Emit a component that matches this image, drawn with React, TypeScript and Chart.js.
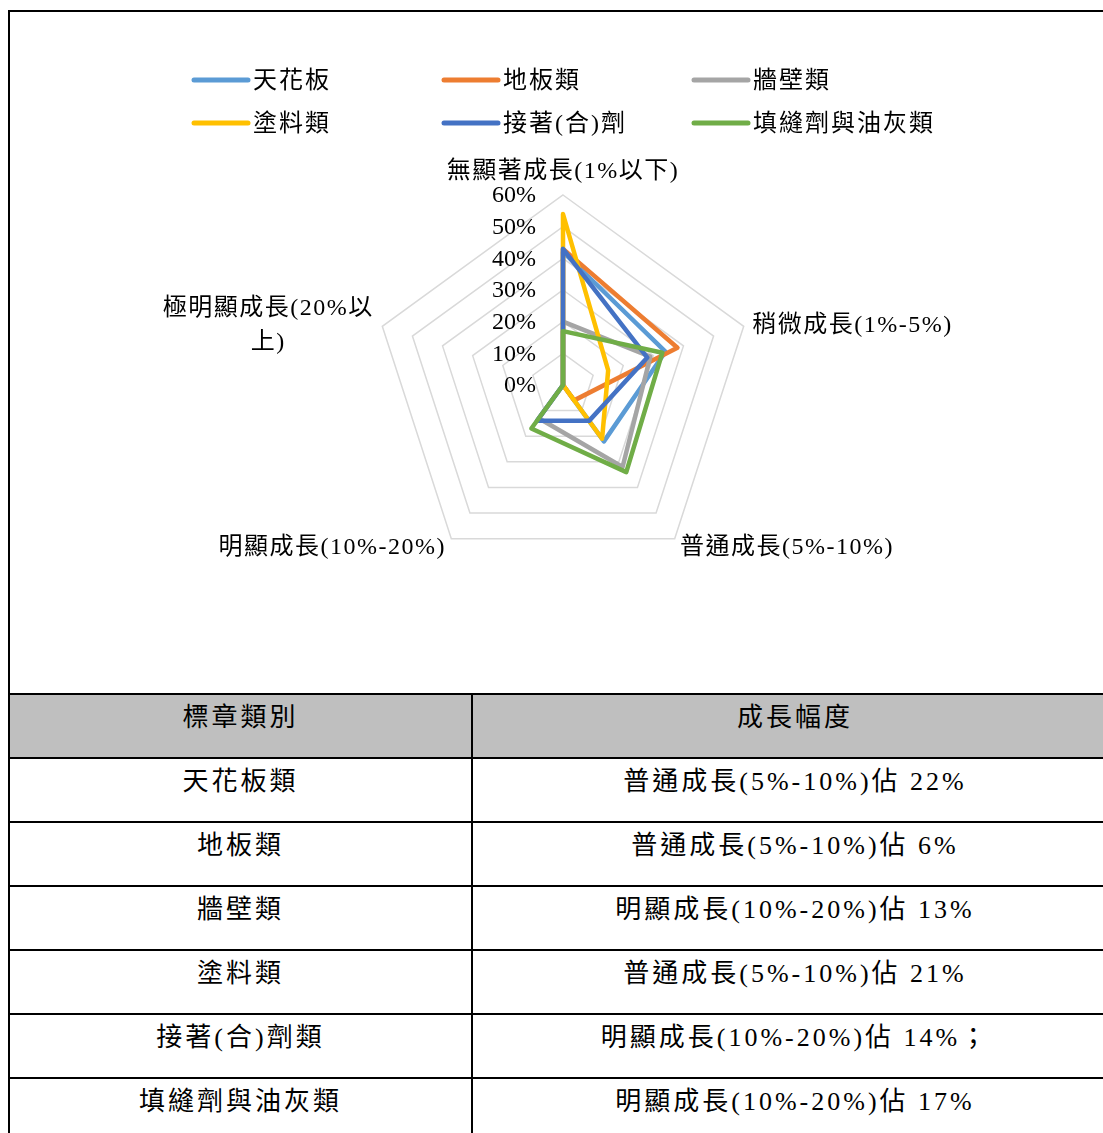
import React, { useEffect, useRef } from 'react';
import { Chart, registerables } from 'chart.js';

Chart.register(...registerables);

// ---- data ----
const categories = ['無顯著成長(1%以下)', '稍微成長(1%-5%)', '普通成長(5%-10%)', '明顯成長(10%-20%)', '極明顯成長(20%以上)'];
const seriesNames = ['天花板', '地板類', '牆壁類', '塗料類', '接著(合)劑', '填縫劑與油灰類'];
const ceilingValues = [42, 34, 22, 0, 0];
const floorValues = [43, 38, 6, 0, 0];
const wallValues = [20, 29, 32, 13, 0];
const paintValues = [54, 15, 21, 0, 0];
const adhesiveValues = [43, 28, 14, 14, 0];
const sealantValues = [17, 33, 34, 17, 0];
const tickValues = [0, 10, 20, 30, 40, 50, 60];

const tableHeader = ['標章類別', '成長幅度'];
const tableCategories = ['天花板類', '地板類', '牆壁類', '塗料類', '接著(合)劑類', '填縫劑與油灰類'];
const tableGrowth = [
  '普通成長(5%-10%)佔 22%',
  '普通成長(5%-10%)佔 6%',
  '明顯成長(10%-20%)佔 13%',
  '普通成長(5%-10%)佔 21%',
  '明顯成長(10%-20%)佔 14%；',
  '明顯成長(10%-20%)佔 17%',
];

const seriesValues = [ceilingValues, floorValues, wallValues, paintValues, adhesiveValues, sealantValues];
const seriesColors = ['#5B9BD5', '#ED7D31', '#A5A5A5', '#FFC000', '#4472C4', '#70AD47'];

const FONT_FAMILY = '"Liberation Serif", "Noto Sans CJK TC", serif';

function wrapText(ctx: CanvasRenderingContext2D, text: string, maxW: number): string[] {
  const lines: string[] = [];
  let cur = '';
  for (const ch of Array.from(text)) {
    const t = cur + ch;
    if (cur && ctx.measureText(t).width > maxW) {
      lines.push(cur);
      cur = ch;
    } else {
      cur = t;
    }
  }
  if (cur) lines.push(cur);
  return lines;
}

const overlayPlugin = {
  id: 'excelRadarOverlay',
  afterDatasetsDraw(chart: any) {
    const ctx: CanvasRenderingContext2D = chart.ctx;
    const scale = chart.scales.r;
    const cx = scale.xCenter;
    const cy = scale.yCenter;
    ctx.save();
    ctx.fillStyle = '#000';

    // tick labels
    ctx.font = `24px ${FONT_FAMILY}`;
    (ctx as any).letterSpacing = '0px';
    ctx.textAlign = 'right';
    ctx.textBaseline = 'middle';
    tickValues.forEach((v) => {
      const y = cy - scale.getDistanceFromCenterForValue(v);
      ctx.fillText(`${v}%`, cx - 27, y + 1);
    });

    // point labels
    const labels: string[] = chart.data.labels;
    labels.forEach((label, i) => {
      const pos = scale.getPointPosition(i, scale.drawingArea + 9);
      ctx.font = `24px ${FONT_FAMILY}`;
      (ctx as any).letterSpacing = '0px';
      const isTop = Math.abs(pos.x - cx) < 2;
      const lines = isTop ? [label] : wrapText(ctx, label, 212);
      (ctx as any).letterSpacing = '1.5px';
      ctx.textBaseline = 'middle';
      const widths = lines.map((l) => ctx.measureText(l).width);
      const blockW = Math.max(...widths);
      const lh = 34;
      let centerY: number;
      let centerX: number;
      if (isTop) {
        centerY = pos.y - 14;
        centerX = pos.x;
      } else if (pos.x > cx) {
        centerY = pos.y + 2;
        centerX = pos.x + blockW / 2;
      } else {
        centerY = pos.y + 2;
        centerX = pos.x - blockW / 2;
      }
      ctx.textAlign = 'center';
      lines.forEach((l, k) => {
        const y = centerY + (k - (lines.length - 1) / 2) * lh;
        ctx.fillText(l, centerX, y);
      });
    });

    // legend (grid of 3 columns)
    ctx.font = `24px ${FONT_FAMILY}`;
    (ctx as any).letterSpacing = '2px';
    ctx.textAlign = 'left';
    ctx.textBaseline = 'middle';
    chart.data.datasets.forEach((ds: any, i: number) => {
      const col = i % 3;
      const row = Math.floor(i / 3);
      const x0 = 184 + col * 250;
      const y0 = 68 + row * 43;
      ctx.strokeStyle = ds.borderColor;
      ctx.lineWidth = 5;
      ctx.lineCap = 'round';
      ctx.beginPath();
      ctx.moveTo(x0, y0);
      ctx.lineTo(x0 + 54, y0);
      ctx.stroke();
      ctx.fillText(ds.label, x0 + 59, y0 + 2);
    });
    (ctx as any).letterSpacing = '0px';
    ctx.restore();
  },
};

function RadarChart() {
  const ref = useRef<HTMLCanvasElement | null>(null);
  useEffect(() => {
    if (!ref.current) return;
    const n = seriesNames.length;
    const chart = new Chart(ref.current, {
      type: 'radar',
      data: {
        labels: categories,
        datasets: seriesNames.map((name, i) => ({
          label: name,
          data: seriesValues[i],
          borderColor: seriesColors[i],
          backgroundColor: seriesColors[i],
          fill: false,
          order: n - 1 - i,
        })),
      },
      options: {
        animation: false,
        responsive: false,
        maintainAspectRatio: false,
        layout: { padding: { top: 183, bottom: 118, left: 0, right: 0 } },
        plugins: { legend: { display: false }, tooltip: { enabled: false } },
        elements: {
          line: { borderWidth: 4.5, tension: 0, borderJoinStyle: 'round', borderCapStyle: 'round' },
          point: { radius: 0, hoverRadius: 0 },
        },
        scales: {
          r: {
            min: 0,
            max: 60,
            ticks: { display: false, stepSize: 10 },
            grid: { color: '#d9d9d9', lineWidth: 1.5 },
            angleLines: { display: false },
            pointLabels: { display: false },
          },
        },
      } as any,
      plugins: [overlayPlugin],
    });
    return () => chart.destroy();
  }, []);
  return <canvas ref={ref} width={1107} height={681} style={{ display: 'block' }} />;
}

const cellText: React.CSSProperties = {
  fontFamily: FONT_FAMILY,
  fontSize: 26,
  letterSpacing: '3px',
  lineHeight: '40px',
  paddingTop: 3,
  textAlign: 'center',
  color: '#000',
  whiteSpace: 'nowrap',
};

function TableRow({ left, right, header }: { left: string; right: string; header?: boolean }) {
  return (
    <div
      style={{
        display: 'flex',
        height: 64,
        boxSizing: 'border-box',
        borderTop: '2px solid #000',
        background: header ? '#BFBFBF' : '#fff',
      }}
    >
      <div style={{ ...cellText, width: 463, boxSizing: 'border-box', borderRight: '2px solid #000' }}>{left}</div>
      <div style={{ ...cellText, flex: 1 }}>{right}</div>
    </div>
  );
}

export default function App() {
  return (
    <div
      style={{
        position: 'absolute',
        left: 8,
        top: 10,
        width: 1095,
        height: 1123,
        overflow: 'hidden',
        background: '#fff',
      }}
    >
      <div
        style={{
          width: 1111,
          boxSizing: 'border-box',
          borderLeft: '2px solid #000',
          borderTop: '2px solid #000',
          borderRight: '2px solid #000',
        }}
      >
        <RadarChart />
        <TableRow left={tableHeader[0]} right={tableHeader[1]} header />
        {tableCategories.map((c, i) => (
          <TableRow key={c} left={c} right={tableGrowth[i]} />
        ))}
      </div>
    </div>
  );
}
